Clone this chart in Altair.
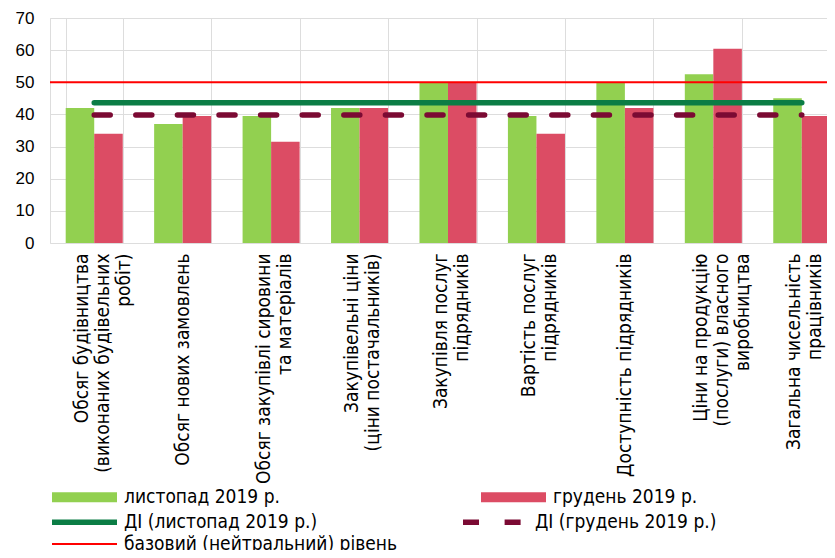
import altair as alt
import pandas as pd

categories = [
    "Обсяг будівництва\n(виконаних будівельних\nробіт)",
    "Обсяг нових замовлень",
    "Обсяг закупівлі сировини\nта матеріалів",
    "Закупівельні ціни\n(ціни постачальників)",
    "Закупівля послуг\nпідрядників",
    "Вартість послуг\nпідрядників",
    "Доступність підрядників",
    "Ціни на продукцію\n(послуги) власного\nвиробництва",
    "Загальна чисельність\nпрацівників",
]
nov_values = [42.0, 37.0, 39.5, 42.0, 50.0, 39.5, 50.0, 52.5, 45.0]
dec_values = [34.0, 39.5, 31.5, 42.0, 50.0, 34.0, 42.0, 60.4, 39.5]
di_nov = 43.6
di_dec = 39.8
neutral_level = 50

bar_names = ["листопад 2019 р.", "грудень 2019 р."]
bar_colors = ["#92D050", "#DC4C64"]
line_names = ["ДІ (листопад 2019 р.)", "ДІ (грудень 2019 р.)", "базовий (нейтральний) рівень"]
line_colors = ["#0B7D45", "#7B0A33", "#FF0000"]
line_widths = [5.5, 5.5, 2]
line_dashes = [[1, 0], [16, 25.6], [1, 0]]

bars_df = pd.DataFrame(
    [{"cat": c, "series": bar_names[0], "value": v} for c, v in zip(categories, nov_values)]
    + [{"cat": c, "series": bar_names[1], "value": v} for c, v in zip(categories, dec_values)]
)
lines_df = pd.DataFrame(
    [{"cat": c, "series": line_names[0], "value": di_nov} for c in categories]
    + [{"cat": c, "series": line_names[1], "value": di_dec} for c in categories]
)
rule_df = pd.DataFrame([{"series": line_names[2], "value": neutral_level}])

NARROW = "Liberation Sans Narrow, Arial Narrow, DejaVu Sans Condensed, Liberation Sans, sans-serif"

bar_legend = alt.Legend(
    title=None,
    orient="none",
    direction="horizontal",
    legendX=1,
    legendY=445.5,
    columns=2,
    columnPadding=200,
    symbolType="M-1,-0.154H1V0.154H-1Z",
    symbolSize=4225,
    labelFont=NARROW,
    labelFontSize=19,
    labelColor="#000000",
    labelOffset=6,
    labelLimit=0,
    padding=0,
)

line_legend = alt.Legend(
    title=None,
    orient="none",
    direction="horizontal",
    legendX=2,
    legendY=494.5,
    columns=2,
    columnPadding=55,
    rowPadding=1,
    symbolType="M-10.83,0H10.83",
    symbolSize=36,
    symbolOffset=23,
    labelFont=NARROW,
    labelFontSize=19,
    labelColor="#000000",
    labelOffset=30,
    labelLimit=0,
    padding=0,
)

stroke_enc = alt.Stroke("series:N", scale=alt.Scale(domain=line_names, range=line_colors), legend=line_legend)
dash_enc = alt.StrokeDash("series:N", scale=alt.Scale(domain=line_names, range=line_dashes), legend=line_legend)
width_enc = alt.StrokeWidth("series:N", scale=alt.Scale(type="ordinal", domain=line_names, range=line_widths), legend=line_legend)

n_lines = "length(split(datum.label, '\\n'))"
x_enc = alt.X(
    "cat:N",
    sort=categories,
    title=None,
    scale=alt.Scale(paddingInner=0.355, paddingOuter=0.1775),
    axis=alt.Axis(
        labelAngle=270,
        labelAlign="right",
        labelBaseline="middle",
        labelExpr="split(datum.label, '\\n')",
        labelFont=NARROW,
        labelFontSize=19,
        labelLineHeight=21,
        labelColor="#000000",
        labelPadding=10,
        labelOffset={
            "condition": [
                {"test": n_lines + " == 3", "value": -13},
                {"test": n_lines + " == 2", "value": -8},
            ],
            "value": 0,
        },
        labelLimit=0,
        labelOverlap=False,
        ticks=False,
        domain=False,
        grid=True,
        tickBand="extent",
    ),
)
y_scale = alt.Scale(domain=[0, 70], nice=False)
y_axis = alt.Axis(
    values=[0, 10, 20, 30, 40, 50, 60, 70],
    labelFont="Liberation Sans",
    labelFontSize=17,
    labelColor="#000000",
    labelPadding=16,
    ticks=False,
    domain=False,
    grid=True,
)

bars = alt.Chart(bars_df).mark_bar().encode(
    x=x_enc,
    xOffset=alt.XOffset("series:N", sort=bar_names, scale=alt.Scale(domain=bar_names)),
    y=alt.Y("value:Q", scale=y_scale, axis=y_axis, title=None),
    fill=alt.Fill("series:N", scale=alt.Scale(domain=bar_names, range=bar_colors), legend=bar_legend),
)

rule = alt.Chart(rule_df).mark_rule().encode(
    y=alt.Y("value:Q", scale=y_scale, axis=y_axis, title=None),
    stroke=stroke_enc,
    strokeDash=dash_enc,
    strokeWidth=width_enc,
)

lines = alt.Chart(lines_df).mark_line(strokeCap="round").encode(
    x=x_enc,
    y=alt.Y("value:Q", scale=y_scale, axis=y_axis, title=None),
    stroke=stroke_enc,
    strokeDash=dash_enc,
    strokeWidth=width_enc,
)

chart = (
    alt.layer(bars, rule, lines)
    .properties(
        width=796,
        height=225,
        autosize=alt.AutoSizeParams(type="none"),
        padding={"left": 42, "top": 10, "right": -19, "bottom": 307},
    )
    .configure_view(stroke="#595959", strokeWidth=2)
    .configure_axis(gridColor="#D9D9D9", gridWidth=1.5)
    .configure(background="white")
)

chart.save("out.html", embed_options={"renderer": "svg", "actions": False})
